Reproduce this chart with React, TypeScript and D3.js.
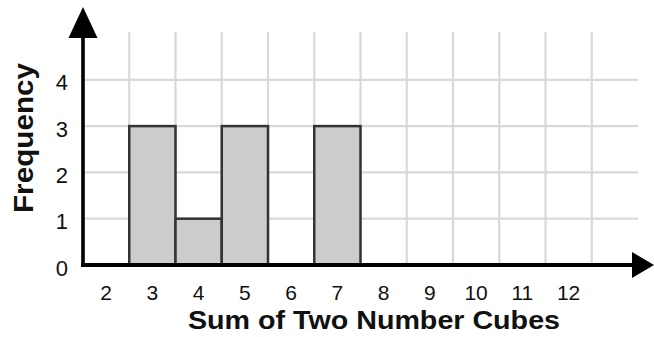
import React from "react";
import * as d3 from "d3";

const categories = [2, 3, 4, 5, 6, 7, 8, 9, 10, 11, 12];
const frequencies = [0, 3, 1, 3, 0, 3, 0, 0, 0, 0, 0];
const yTicks = [0, 1, 2, 3, 4];
const xTitle = "Sum of Two Number Cubes";
const yTitle = "Frequency";

const W = 654;
const H = 337;

export default function App() {
  const x = d3.scaleLinear().domain([2, 14]).range([83, 638]);
  const y = d3.scaleLinear().domain([0, 5]).range([265, 33.5]);
  const font = "'Liberation Sans', Arial, Helvetica, sans-serif";
  const gridX = d3.range(3, 14);
  const gridY = d3.range(1, 5);

  return (
    <svg
      width={W}
      height={H}
      style={{ position: "absolute", left: 0, top: 0, background: "#fff" }}
      fontFamily={font}
    >
      <rect x={0} y={0} width={W} height={H} fill="#fff" />
      {/* grid */}
      <g stroke="#d9d9d9" strokeWidth={2.2}>
        {gridX.map((v) => (
          <line key={"gx" + v} x1={x(v)} x2={x(v)} y1={y(5) - 1.5} y2={y(0)} />
        ))}
        {gridY.map((v) => (
          <line key={"gy" + v} x1={x(2)} x2={x(14)} y1={y(v)} y2={y(v)} />
        ))}
      </g>
      {/* bars */}
      <g fill="#cccccc" stroke="#333" strokeWidth={2.5}>
        {categories.map((c, i) =>
          frequencies[i] > 0 ? (
            <rect
              key={"b" + c}
              x={x(c)}
              y={y(frequencies[i])}
              width={x(c + 1) - x(c)}
              height={y(0) - y(frequencies[i])}
            />
          ) : null
        )}
      </g>
      {/* axes */}
      <line x1={x(2)} x2={x(2)} y1={y(0) + 2} y2={30} stroke="#000" strokeWidth={3.6} />
      <path d={`M${x(2)},7 L${x(2) + 14.5},38 L${x(2) - 14.5},38 Z`} fill="#000" />
      <line x1={x(2) - 2} x2={636} y1={y(0)} y2={y(0)} stroke="#000" strokeWidth={3.8} />
      <path d={`M654,${y(0)} L632,${y(0) - 13} L632,${y(0) + 13} Z`} fill="#000" />
      {/* y tick labels */}
      <g fontSize={22} fill="#111" textAnchor="end">
        {yTicks.map((t) => (
          <text key={"yt" + t} x={68} y={y(t) + 10.5}>
            {t}
          </text>
        ))}
      </g>
      {/* x tick labels */}
      <g fontSize={21} fill="#111" textAnchor="middle">
        {categories.map((c) => (
          <text key={"xt" + c} x={(x(c) + x(c + 1)) / 2} y={300}>
            {c}
          </text>
        ))}
      </g>
      {/* titles */}
      <text
        x={374}
        y={329}
        fontSize={26}
        fontWeight="bold"
        textAnchor="middle"
        fill="#111"
        textLength={372}
        lengthAdjust="spacingAndGlyphs"
      >
        {xTitle}
      </text>
      <text
        transform={`translate(33,138) rotate(-90)`}
        fontSize={27}
        fontWeight="bold"
        textAnchor="middle"
        fill="#111"
        textLength={150}
        lengthAdjust="spacingAndGlyphs"
      >
        {yTitle}
      </text>
    </svg>
  );
}
